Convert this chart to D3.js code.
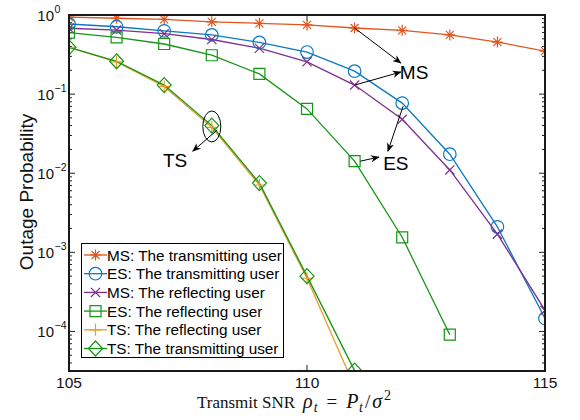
<!DOCTYPE html>
<html>
<head>
<meta charset="utf-8">
<script src="https://cdn.jsdelivr.net/npm/d3@7"></script>
<style>
  body { margin: 0; background: #fff; }
  svg { display: block; }
  text { font-family: "Liberation Sans", Arial, Helvetica, sans-serif; }
</style>
</head>
<body>
<svg id="chart" width="580" height="420"></svg>
<script>
// data
var snr = [105, 106, 107, 108, 109, 110, 111, 112, 113, 114, 115];
var msTrans = [0.94, 0.91, 0.88, 0.82, 0.785, 0.75, 0.685, 0.64, 0.56, 0.455, 0.35];
var esTrans = [0.77, 0.71, 0.63, 0.56, 0.45, 0.34, 0.195, 0.077, 0.0174, 0.0021, 0.000146];
var msRefl = [0.68, 0.645, 0.58, 0.49, 0.38, 0.256, 0.13, 0.048, 0.011, 0.0017, 0.000185];
var esRefl = [0.60, 0.52, 0.43, 0.31, 0.18, 0.065, 0.0142, 0.00155, 0.000091];
var tsRefl = [0.39, 0.255, 0.125, 0.038, 0.0071, 0.00047, 0.00002];
var tsTrans = [0.39, 0.26, 0.13, 0.04, 0.0075, 0.0005, 0.000032];

var seriesNames = ["MS: The transmitting user", "ES: The transmitting user", "MS: The reflecting user",
                   "ES: The reflecting user", "TS: The reflecting user", "TS: The transmitting user"];
var seriesValues = [msTrans, esTrans, msRefl, esRefl, tsRefl, tsTrans];
var seriesColors = ["#e2561e", "#0b78c4", "#7e2f8e", "#159615", "#ee9a2a", "#159615"];
var seriesMarkers = ["asterisk", "circle", "cross", "square", "plus", "diamond"];

var xTicks = [105, 110, 115];
var yDecades = [0, -1, -2, -3, -4];

// annotations, in data units
var notes = [
  { text: "MS", x: 111.95, y: 0.19, anchor: "start" },
  { text: "ES", x: 111.6, y: 0.0134, anchor: "start" },
  { text: "TS", x: 107.23, y: 0.0146, anchor: "middle" }
];
var arrows = [
  { from: [111, 0.685], to: [111.97, 0.247] },
  { from: [111, 0.13], to: [111.97, 0.19] },
  { from: [111.12, 0.0142], to: [111.51, 0.016] },
  { from: [112.02, 0.0705], to: [111.70, 0.019] },
  { from: [108.11, 0.035], to: [107.6, 0.019] }
];
var ring = { x: 108, y: 0.039 };

var svg = d3.select("#chart");
var pLeft = 69, pRight = 545, pTop = 15, pBottom = 371;

var x = d3.scaleLinear().domain([105, 115]).range([pLeft, pRight]);
var y = d3.scaleLog().domain([Math.pow(10, -4.5), 1]).range([pBottom, pTop]);

var defs = svg.append("defs");
defs.append("clipPath").attr("id", "plotClip")
  .append("rect")
  .attr("x", pLeft).attr("y", pTop)
  .attr("width", pRight - pLeft).attr("height", pBottom - pTop);

defs.append("marker")
  .attr("id", "arrowHead")
  .attr("viewBox", "0 0 10 10")
  .attr("refX", 9).attr("refY", 5)
  .attr("markerWidth", 9).attr("markerHeight", 9)
  .attr("markerUnits", "userSpaceOnUse")
  .attr("orient", "auto")
  .append("path")
  .attr("d", "M0,1 L10,5 L0,9 L3,5 Z")
  .style("fill", "#000");

function markerPath(kind) {
  if (kind === "circle") return d3.arc()({ innerRadius: 0, outerRadius: 6.3, startAngle: 0, endAngle: 2 * Math.PI });
  if (kind === "square") return "M-5.5,-5.5H5.5V5.5H-5.5Z";
  if (kind === "diamond") return "M0,-7.5L7,0L0,7.5L-7,0Z";
  if (kind === "cross") return "M-4.6,-4.6L4.6,4.6M-4.6,4.6L4.6,-4.6";
  if (kind === "plus") return "M-6,0H6M0,-6V6";
  // asterisk
  return "M-5.5,0H5.5M0,-5.5V5.5M-4,-4L4,4M-4,4L4,-4";
}

// axes ticks (inside, MATLAB style)
var axisG = svg.append("g");
yDecades.forEach(function (d) {
  var yy = y(Math.pow(10, d));
  axisG.append("line").attr("x1", pLeft).attr("x2", pLeft + 6).attr("y1", yy).attr("y2", yy);
  axisG.append("line").attr("x1", pRight).attr("x2", pRight - 6).attr("y1", yy).attr("y2", yy);
  axisG.append("text")
    .attr("x", 54).attr("y", yy + 6)
    .attr("text-anchor", "end")
    .style("font-size", "15px")
    .style("fill", "#111")
    .text("10");
  axisG.append("text")
    .attr("x", 54.5).attr("y", yy - 2)
    .style("font-size", "10.5px")
    .style("fill", "#111")
    .text(d === 0 ? "0" : "\u2212" + (-d));
});
for (var dec = -5; dec < 0; dec++) {
  for (var m = 2; m <= 9; m++) {
    var v = m * Math.pow(10, dec);
    if (v < y.domain()[0]) continue;
    var yy = y(v);
    axisG.append("line").attr("x1", pLeft).attr("x2", pLeft + 3).attr("y1", yy).attr("y2", yy);
    axisG.append("line").attr("x1", pRight).attr("x2", pRight - 3).attr("y1", yy).attr("y2", yy);
  }
}
xTicks.forEach(function (t) {
  var xx = x(t);
  axisG.append("line").attr("x1", xx).attr("x2", xx).attr("y1", pBottom).attr("y2", pBottom - 6);
  axisG.append("line").attr("x1", xx).attr("x2", xx).attr("y1", pTop).attr("y2", pTop + 6);
  axisG.append("text")
    .attr("x", xx).attr("y", pBottom + 17)
    .attr("text-anchor", "middle")
    .style("font-size", "15.5px")
    .style("fill", "#111")
    .text(t);
});
axisG.selectAll("line").style("stroke", "#222").style("stroke-width", 1);

// series
var plot = svg.append("g").attr("clip-path", "url(#plotClip)");
var line = d3.line()
  .x(function (d, i) { return x(snr[i]); })
  .y(function (d) { return y(d); });

seriesValues.forEach(function (vals, s) {
  plot.append("path")
    .attr("d", line(vals))
    .style("fill", "none")
    .style("stroke", seriesColors[s])
    .style("stroke-width", 1.3);
});
seriesValues.forEach(function (vals, s) {
  plot.selectAll(null)
    .data(vals)
    .enter()
    .append("path")
    .attr("transform", function (d, i) { return "translate(" + x(snr[i]) + "," + y(d) + ")"; })
    .attr("d", markerPath(seriesMarkers[s]))
    .style("fill", "none")
    .style("stroke", seriesColors[s])
    .style("stroke-width", 1.2);
});

// frame
svg.append("rect")
  .attr("x", pLeft).attr("y", pTop)
  .attr("width", pRight - pLeft).attr("height", pBottom - pTop)
  .style("fill", "none")
  .style("stroke", "#1a1a1a")
  .style("stroke-width", 2);

// annotations
var ann = svg.append("g");
arrows.forEach(function (a) {
  ann.append("line")
    .attr("x1", x(a.from[0])).attr("y1", y(a.from[1]))
    .attr("x2", x(a.to[0])).attr("y2", y(a.to[1]))
    .style("stroke", "#000")
    .style("stroke-width", 1)
    .attr("marker-end", "url(#arrowHead)");
});
notes.forEach(function (n) {
  ann.append("text")
    .attr("x", x(n.x)).attr("y", y(n.y) + 7)
    .attr("text-anchor", n.anchor)
    .style("font-size", "19px")
    .style("fill", "#000")
    .text(n.text);
});
ann.append("ellipse")
  .attr("cx", x(ring.x)).attr("cy", y(ring.y))
  .attr("rx", 9).attr("ry", 15.5)
  .style("fill", "none")
  .style("stroke", "#000")
  .style("stroke-width", 1);

// legend
var lg = svg.append("g");
lg.append("rect")
  .attr("x", 81.5).attr("y", 243.5)
  .attr("width", 202).attr("height", 114)
  .style("fill", "#fff")
  .style("stroke", "#000")
  .style("stroke-width", 1);
seriesNames.forEach(function (name, s) {
  var ly = 255 + s * 18.7;
  lg.append("line")
    .attr("x1", 84).attr("x2", 107).attr("y1", ly).attr("y2", ly)
    .style("stroke", seriesColors[s])
    .style("stroke-width", 1.3);
  lg.append("path")
    .attr("transform", "translate(95.5," + ly + ")")
    .attr("d", markerPath(seriesMarkers[s]))
    .style("fill", "none")
    .style("stroke", seriesColors[s])
    .style("stroke-width", 1.2);
  lg.append("text")
    .attr("x", 107).attr("y", ly + 5.5)
    .style("font-size", "15.3px")
    .style("fill", "#000")
    .text(name);
});

// axis labels
svg.append("text")
  .attr("transform", "translate(33,192) rotate(-90)")
  .attr("text-anchor", "middle")
  .style("font-size", "19px")
  .style("fill", "#111")
  .text("Outage Probability");

var xl = svg.append("text")
  .attr("x", 197).attr("y", 408)
  .style("font-family", "'Liberation Serif', 'Times New Roman', serif")
  .style("font-size", "17px")
  .style("fill", "#111");
xl.append("tspan").text("Transmit SNR");
xl.append("tspan").attr("dx", 8).style("font-style", "italic").style("font-size", "20px").text("\u03c1");
xl.append("tspan").attr("dx", 1).attr("dy", 4).style("font-style", "italic").style("font-size", "14px").text("t");
xl.append("tspan").attr("dx", 9).attr("dy", -4).style("font-size", "19px").text("=");
xl.append("tspan").attr("dx", 9).style("font-style", "italic").style("font-size", "20px").text("P");
xl.append("tspan").attr("dx", 0.5).attr("dy", 4).style("font-style", "italic").style("font-size", "14px").text("t");
xl.append("tspan").attr("dx", 2).attr("dy", -4).style("font-size", "19px").text("/");
xl.append("tspan").attr("dx", 2).style("font-style", "italic").style("font-size", "20px").text("\u03c3");
xl.append("tspan").attr("dx", 2).attr("dy", -8).style("font-size", "14px").text("2");
</script>
</body>
</html>
